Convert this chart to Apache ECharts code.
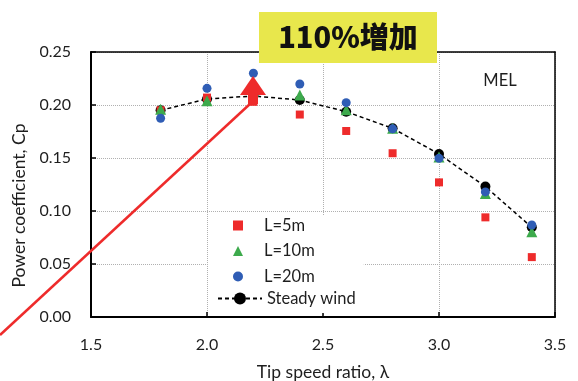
<!DOCTYPE html>
<html><head><meta charset="utf-8">
<script src="https://cdn.jsdelivr.net/npm/echarts@6/dist/echarts.min.js"></script>
<style>html,body{margin:0;padding:0;background:#fff}#c{width:578px;height:381px}</style>
</head><body><div id="c"></div>
<script>
// Tip speed ratio (x) and power coefficient values (y)
const tsr = [1.8, 2.0, 2.2, 2.4, 2.6, 2.8, 3.0, 3.2, 3.4];
const cpL5 = [0.195, 0.207, 0.203, 0.191, 0.1755, 0.1545, 0.127, 0.094, 0.0565];
const cpL10 = [0.196, 0.204, 0.213, 0.2095, 0.1955, 0.178, 0.151, 0.1165, 0.0805];
const cpL20 = [0.1875, 0.2157, 0.2300, 0.2198, 0.2022, 0.1775, 0.1497, 0.118, 0.0868];
const cpSteady = [0.195, 0.2057, 0.2085, 0.2047, 0.1937, 0.178, 0.1538, 0.123, 0.0846];
const seriesNames = ['L=5m', 'L=10m', 'L=20m', 'Steady wind'];
const xName = 'Tip speed ratio, λ';
const yName = 'Power coefficient, Cp';
const boxText = '110%増加';
const tagText = 'MEL';

const pairs = ys => tsr.map((x, i) => [x, ys[i]]);
const FONT = 'Lato';
const TXT = '#1e1e1e';

const chart = echarts.init(document.getElementById('c'), null, {renderer: 'canvas'});
chart.setOption({
  animation: false,
  backgroundColor: '#fff',
  textStyle: {fontFamily: FONT},
  grid: {left: 91, right: 23, top: 52, bottom: 64, outerBoundsMode: 'none', containLabel: false},
  xAxis: [{
    type: 'value', min: 1.5, max: 3.5, interval: 0.5,
    name: xName, nameLocation: 'middle', nameGap: 46,
    nameTextStyle: {fontSize: 17.5, color: TXT, fontFamily: FONT},
    axisLine: {show: true, onZero: false, lineStyle: {color: '#000', width: 2}},
    axisTick: {show: true, inside: true, length: 5, lineStyle: {color: '#000', width: 1.5}},
    axisLabel: {fontSize: 16, color: TXT, margin: 20, formatter: v => v.toFixed(1), fontFamily: FONT},
    splitLine: {show: true, lineStyle: {color: '#b0b0b0', type: 'dotted', width: 1}}
  }, {
    type: 'value', position: 'top', min: 1.5, max: 3.5, interval: 0.5, z: 3,
    axisLine: {show: true, onZero: false, lineStyle: {color: '#000', width: 1.5}},
    axisTick: {show: false}, axisLabel: {show: false}, splitLine: {show: false}
  }],
  yAxis: [{
    type: 'value', min: 0, max: 0.25, interval: 0.05,
    name: yName, nameLocation: 'middle', nameGap: 60, nameRotate: 90,
    nameTextStyle: {fontSize: 17.5, color: TXT, fontFamily: FONT, padding: [0, 42, 0, 0]},
    axisLine: {show: true, onZero: false, lineStyle: {color: '#000', width: 2}},
    axisTick: {show: true, inside: true, length: 5, lineStyle: {color: '#000', width: 1.5}},
    axisLabel: {fontSize: 16, color: TXT, margin: 20, formatter: v => v.toFixed(2), fontFamily: FONT},
    splitLine: {show: true, lineStyle: {color: '#b0b0b0', type: 'dotted', width: 1}}
  }, {
    type: 'value', position: 'right', min: 0, max: 0.25, interval: 0.05, z: 3,
    axisLine: {show: true, onZero: false, lineStyle: {color: '#000', width: 1.5}},
    axisTick: {show: false}, axisLabel: {show: false}, splitLine: {show: false}
  }],
  legend: [{
    data: seriesNames.slice(0, 3),
    orient: 'vertical', left: 208, top: 215,
    padding: [2, 49, 4, 25],
    itemWidth: 10, itemHeight: 10, itemGap: 8.5,
    backgroundColor: '#fff',
    textStyle: {fontSize: 16.5, color: TXT, fontFamily: FONT, lineHeight: 16, padding: [0, 0, 0, 16]}
  }, {
    data: [seriesNames[3]],
    orient: 'vertical', left: 208, top: 286,
    padding: [4, 10, 6, 9],
    itemWidth: 44, itemHeight: 15,
    backgroundColor: '#fff',
    textStyle: {fontSize: 16.5, color: TXT, fontFamily: FONT, lineHeight: 16}
  }],
  series: [{
    name: seriesNames[3], type: 'line', data: pairs(cpSteady), z: 2,
    symbol: 'circle', symbolSize: 10, showSymbol: true,
    itemStyle: {color: '#000', opacity: 1},
    lineStyle: {color: '#000', width: 1.5, type: [4, 3]}
  }, {
    name: seriesNames[0], type: 'scatter', data: pairs(cpL5), z: 3,
    symbol: 'rect', symbolSize: 8, itemStyle: {color: '#EE2B2B', opacity: 1}
  }, {
    name: seriesNames[1], type: 'scatter', data: pairs(cpL10), z: 4,
    symbol: 'triangle', symbolSize: 11, itemStyle: {color: '#3DAA4C', opacity: 1}
  }, {
    name: seriesNames[2], type: 'scatter', data: pairs(cpL20), z: 5,
    symbol: 'circle', symbolSize: 9, itemStyle: {color: '#2F5DB5', opacity: 1}
  }],
  graphic: [
    {type: 'line', z: 20, shape: {x1: 0, y1: 335, x2: 251, y2: 103},
     style: {stroke: '#EE2B2B', lineWidth: 2.5}},
    {type: 'rect', z: 20, shape: {x: 248, y: 93, width: 10, height: 11}, style: {fill: '#EE2B2B'}},
    {type: 'polygon', z: 20, shape: {points: [[253, 76], [240, 95], [266, 95]]}, style: {fill: '#EE2B2B'}},
    {type: 'rect', z: 20, shape: {x: 259, y: 12, width: 178, height: 51}, style: {fill: '#E8E74C'}},
    {type: 'text', z: 21, x: 348, y: 37,
     style: {text: boxText, fill: '#111', font: '900 29px "Noto Sans CJK JP"', align: 'center', verticalAlign: 'middle'}},
    {type: 'text', z: 21, x: 500, y: 81,
     style: {text: tagText, fill: TXT, font: '16.5px Lato', align: 'center', verticalAlign: 'middle'}}
  ]
});
</script>
</body></html>
